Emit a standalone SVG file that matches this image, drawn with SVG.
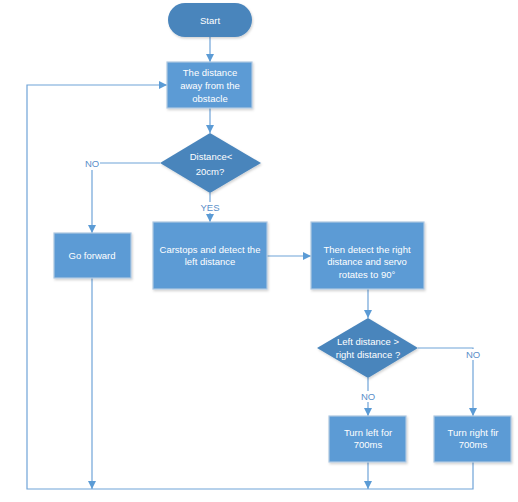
<svg xmlns="http://www.w3.org/2000/svg" width="518" height="502" viewBox="0 0 518 502">
<style>
.box{fill:#5B9BD5;stroke:#AFC8E2;stroke-width:1.2;filter:url(#sh)}
.dec{fill:#4A85BC;stroke:none}
.t{font-family:"Liberation Sans",Arial,sans-serif;font-size:9.5px;fill:#FFFFFF;text-anchor:middle}
.lbl{font-family:"Liberation Sans",Arial,sans-serif;font-size:9.5px;fill:#5B8FC9;text-anchor:middle}
.c{fill:none;stroke:#6FA3D8;stroke-width:1.2}
</style>
<defs>
<marker id="ah" viewBox="0 0 10 10" refX="10" refY="5" markerWidth="8" markerHeight="8" markerUnits="userSpaceOnUse" orient="auto">
<path d="M0,0 L10,5 L0,10 Z" fill="#5B9BD5"/>
</marker>
<filter id="sh" x="-10%" y="-10%" width="125%" height="130%">
<feDropShadow dx="1" dy="1.5" stdDeviation="1.2" flood-color="#000" flood-opacity="0.18"/>
</filter>
</defs>
<g id="connectors">
<line class="c" x1="210" y1="37" x2="210" y2="62" marker-end="url(#ah)"/>
<line class="c" x1="210" y1="108" x2="210" y2="133" marker-end="url(#ah)"/>
<polyline class="c" points="160,163 100,163"/>
<line class="c" x1="92" y1="170" x2="92" y2="233" marker-end="url(#ah)"/>
<line class="c" x1="210" y1="193" x2="210" y2="202"/>
<line class="c" x1="210" y1="213" x2="210" y2="222" marker-end="url(#ah)"/>
<line class="c" x1="267" y1="256" x2="311" y2="256" marker-end="url(#ah)"/>
<line class="c" x1="368" y1="289" x2="368" y2="318" marker-end="url(#ah)"/>
<polyline class="c" points="418,348 473,348 473,349"/>
<line class="c" x1="473" y1="360" x2="473" y2="416" marker-end="url(#ah)"/>
<line class="c" x1="368" y1="378" x2="368" y2="391"/>
<line class="c" x1="368" y1="402" x2="368" y2="416" marker-end="url(#ah)"/>
<line class="c" x1="92" y1="278" x2="92" y2="489" marker-end="url(#ah)"/>
<line class="c" x1="368" y1="462" x2="368" y2="489" marker-end="url(#ah)"/>
<polyline class="c" points="473,462 473,489 27,489 27,85 167,85" marker-end="url(#ah)"/>
<text class="lbl" x="92" y="167">NO</text>
<text class="lbl" x="210" y="211">YES</text>
<text class="lbl" x="473" y="358">NO</text>
<text class="lbl" x="368" y="400">NO</text>
</g>
<g id="start">
<rect x="168" y="3" width="84" height="34" rx="17" ry="17" class="dec" style="filter:url(#sh)"/>
<text class="t" x="210" y="24">Start</text>
</g>
<g id="measure">
<rect class="box" x="167" y="62" width="85" height="46"/>
<text class="t" x="210" y="76">The distance</text>
<text class="t" x="210" y="89">away from the</text>
<text class="t" x="210" y="102">obstacle</text>
</g>
<g id="decision1">
<polygon class="dec" points="210,133 261,163 210,193 160,163" style="filter:url(#sh)"/>
<text class="t" x="211" y="160">Distance&lt;</text>
<text class="t" x="210" y="175">20cm?</text>
</g>
<g id="forward">
<rect class="box" x="54" y="233" width="77" height="45"/>
<text class="t" x="92" y="259">Go forward</text>
</g>
<g id="stop">
<rect class="box" x="153" y="222" width="114" height="67"/>
<text class="t" x="210" y="253">Carstops and detect the</text>
<text class="t" x="210" y="265">left distance</text>
</g>
<g id="right">
<rect class="box" x="311" y="222" width="113" height="67"/>
<text class="t" x="367" y="253">Then detect the right</text>
<text class="t" x="367" y="265">distance and servo</text>
<text class="t" x="367" y="278">rotates to 90°</text>
</g>
<g id="decision2">
<polygon class="dec" points="368,318 418,348 368,378 317,348" style="filter:url(#sh)"/>
<text class="t" x="368" y="345">Left distance &gt;</text>
<text class="t" x="368" y="358">right distance ?</text>
</g>
<g id="turnleft">
<rect class="box" x="329" y="416" width="77" height="46"/>
<text class="t" x="368" y="436">Turn left for</text>
<text class="t" x="368" y="448">700ms</text>
</g>
<g id="turnright">
<rect class="box" x="434" y="416" width="77" height="46"/>
<text class="t" x="473" y="436">Turn right fir</text>
<text class="t" x="473" y="448">700ms</text>
</g>
</svg>
